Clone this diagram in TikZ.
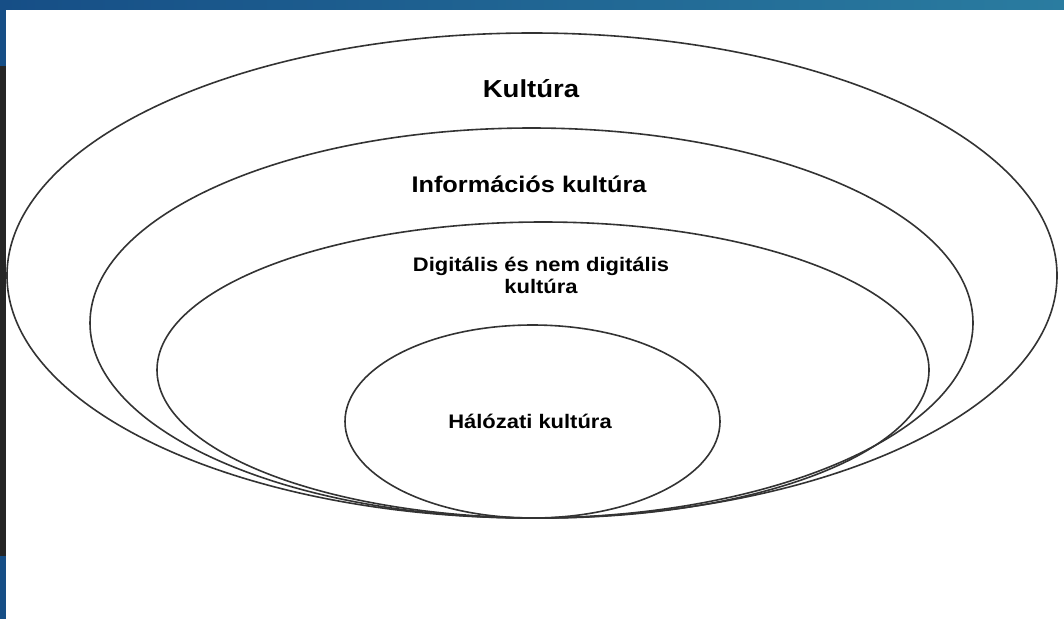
\documentclass[tikz,border=0pt]{standalone}
\usepackage{fontspec}
\newfontfamily\labelfont[FakeStretch=1.12]{Liberation Sans}
\usetikzlibrary{shapes.geometric}
\definecolor{barleft}{RGB}{22,78,134}
\definecolor{barright}{RGB}{42,124,160}
\definecolor{stripdark}{RGB}{38,38,38}

\begin{document}
\begin{tikzpicture}[
  x=1pt, y=-1pt,
  every node/.style={align=center, inner sep=0pt, outer sep=0pt},
  ring/.style={draw=black!80, line width=1.6pt, ellipse},
  big/.style={font=\labelfont\bfseries\fontsize{24.6}{29}\selectfont},
  mid/.style={font=\labelfont\bfseries\fontsize{22.6}{27}\selectfont},
  small/.style={font=\labelfont\bfseries\fontsize{19.6}{21.7}\selectfont}
]
\useasboundingbox (0,0) rectangle (1064,619);

% frame
\shade[left color=barleft, right color=barright] (0,0) rectangle (1064,9);
\fill[barleft] (0,0) rectangle (6,66);
\fill[stripdark] (0,66) rectangle (6,556);
\fill[barleft] (0,556) rectangle (6,619);

\node[ring, minimum width=1050pt, minimum height=485pt] (kultura) at (532,275.5) {};
\node[ring, minimum width=883pt, minimum height=390pt] (info) at (531.5,323) {};
\node[ring, minimum width=772pt, minimum height=296pt] (digital) at (543,370) {};
\node[ring, minimum width=375pt, minimum height=193pt] (halozat) at (532.5,421.5) {};

\node[big, anchor=base] (kultura-label) at (531,97.3) {Kultúra};
\node[mid, anchor=base] (info-label) at (529,192.7) {Információs kultúra};
\node[small, anchor=base] (digital-label) at (541,293.3) {Digitális és nem digitális\\kultúra};
\node[small, anchor=base] (halozat-label) at (530,428) {Hálózati kultúra};

\end{tikzpicture}
\end{document}
